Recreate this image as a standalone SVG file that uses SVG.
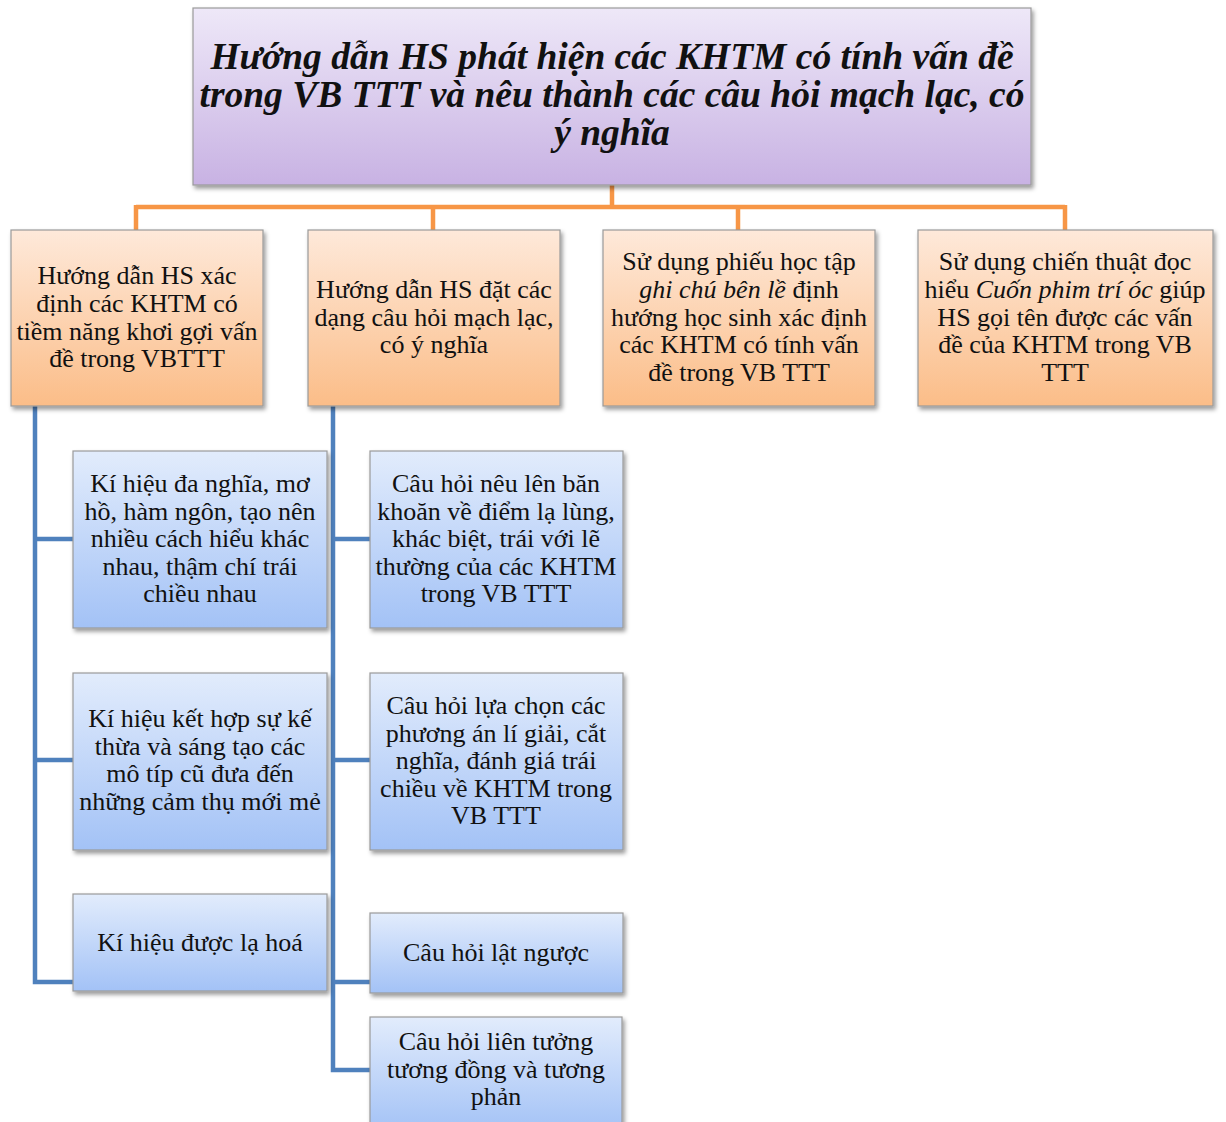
<svg xmlns="http://www.w3.org/2000/svg" width="1226" height="1122" viewBox="0 0 1226 1122">
<defs>
<linearGradient id="gP" x1="0" y1="0" x2="0" y2="1"><stop offset="0" stop-color="#eee8f8"/><stop offset="1" stop-color="#c8b2e3"/></linearGradient>
<linearGradient id="gO" x1="0" y1="0" x2="0" y2="1"><stop offset="0" stop-color="#fee9da"/><stop offset="1" stop-color="#fbbd88"/></linearGradient>
<linearGradient id="gB" x1="0" y1="0" x2="0" y2="1"><stop offset="0" stop-color="#e2ecfc"/><stop offset="1" stop-color="#a3c2f6"/></linearGradient>
<filter id="sh" x="-5%" y="-5%" width="112%" height="115%"><feDropShadow dx="2" dy="3" stdDeviation="2" flood-color="#000" flood-opacity="0.4"/></filter>
</defs>
<style>
.box{stroke:#9a9a9a;stroke-width:1.2;filter:url(#sh)}
.t{font-family:"Liberation Serif","Times New Roman",serif;font-size:26px;fill:#111;text-anchor:middle}
.title{font-family:"Liberation Serif","Times New Roman",serif;font-size:37.5px;font-weight:bold;font-style:italic;fill:#111;text-anchor:middle}
.oc{fill:none;stroke:#f79646;stroke-width:4.5}
.bc{fill:none;stroke:#4f81bd;stroke-width:4.5}
</style>
<g id="connectors">
<path class="oc" d="M612 185V207M136 207H1065M136 205V230M433 205V230M738 205V230M1065 205V230"/>
<path class="bc" d="M35 406V982H73M35 539H73M35 760H73"/>
<path class="bc" d="M333 406V1070H370M333 539H370M333 760H370M333 982H370"/>
</g>
<g id="n0"><rect class="box" x="193" y="8" width="838" height="177" fill="url(#gP)"/>
<text class="title"><tspan x="612" y="69">Hướng dẫn HS phát hiện các KHTM có tính vấn đề</tspan><tspan x="612" y="107">trong VB TTT và nêu thành các câu hỏi mạch lạc, có</tspan><tspan x="612" y="145">ý nghĩa</tspan></text></g>
<g id="n1"><rect class="box" x="11" y="230" width="252" height="176" fill="url(#gO)"/>
<text class="t"><tspan x="137" y="284">Hướng dẫn HS xác</tspan><tspan x="137" y="312">định các KHTM có</tspan><tspan x="137" y="340">tiềm năng khơi gợi vấn</tspan><tspan x="137" y="367">đề trong VBTTT</tspan></text></g>
<g id="n2"><rect class="box" x="308" y="230" width="252" height="176" fill="url(#gO)"/>
<text class="t"><tspan x="434" y="298">Hướng dẫn HS đặt các</tspan><tspan x="434" y="326">dạng câu hỏi mạch lạc,</tspan><tspan x="434" y="353">có ý nghĩa</tspan></text></g>
<g id="n3"><rect class="box" x="603" y="230" width="272" height="176" fill="url(#gO)"/>
<text class="t"><tspan x="739" y="270">Sử dụng phiếu học tập</tspan><tspan x="739" y="298"><tspan font-style="italic">ghi chú bên lề</tspan> định</tspan><tspan x="739" y="326">hướng học sinh xác định</tspan><tspan x="739" y="353">các KHTM có tính vấn</tspan><tspan x="739" y="381">đề trong VB TTT</tspan></text></g>
<g id="n4"><rect class="box" x="918" y="230" width="295" height="176" fill="url(#gO)"/>
<text class="t"><tspan x="1065" y="270">Sử dụng chiến thuật đọc</tspan><tspan x="1065" y="298">hiểu <tspan font-style="italic">Cuốn phim trí óc</tspan> giúp</tspan><tspan x="1065" y="326">HS gọi tên được các vấn</tspan><tspan x="1065" y="353">đề của KHTM trong VB</tspan><tspan x="1065" y="381">TTT</tspan></text></g>
<g id="n5"><rect class="box" x="73" y="451" width="254" height="177" fill="url(#gB)"/>
<text class="t"><tspan x="200" y="492">Kí hiệu đa nghĩa, mơ</tspan><tspan x="200" y="520">hồ, hàm ngôn, tạo nên</tspan><tspan x="200" y="547">nhiều cách hiểu khác</tspan><tspan x="200" y="575">nhau, thậm chí trái</tspan><tspan x="200" y="602">chiều nhau</tspan></text></g>
<g id="n6"><rect class="box" x="73" y="673" width="254" height="177" fill="url(#gB)"/>
<text class="t"><tspan x="200" y="727">Kí hiệu kết hợp sự kế</tspan><tspan x="200" y="755">thừa và sáng tạo các</tspan><tspan x="200" y="782">mô típ cũ đưa đến</tspan><tspan x="200" y="810">những cảm thụ mới mẻ</tspan></text></g>
<g id="n7"><rect class="box" x="73" y="894" width="254" height="97" fill="url(#gB)"/>
<text class="t"><tspan x="200" y="951">Kí hiệu được lạ hoá</tspan></text></g>
<g id="n8"><rect class="box" x="370" y="451" width="253" height="177" fill="url(#gB)"/>
<text class="t"><tspan x="496" y="492">Câu hỏi nêu lên băn</tspan><tspan x="496" y="520">khoăn về điểm lạ lùng,</tspan><tspan x="496" y="547">khác biệt, trái với lẽ</tspan><tspan x="496" y="575">thường của các KHTM</tspan><tspan x="496" y="602">trong VB TTT</tspan></text></g>
<g id="n9"><rect class="box" x="370" y="673" width="253" height="177" fill="url(#gB)"/>
<text class="t"><tspan x="496" y="714">Câu hỏi lựa chọn các</tspan><tspan x="496" y="742">phương án lí giải, cắt</tspan><tspan x="496" y="769">nghĩa, đánh giá trái</tspan><tspan x="496" y="797">chiều về KHTM trong</tspan><tspan x="496" y="824">VB TTT</tspan></text></g>
<g id="n10"><rect class="box" x="370" y="913" width="253" height="80" fill="url(#gB)"/>
<text class="t"><tspan x="496" y="961">Câu hỏi lật ngược</tspan></text></g>
<g id="n11"><rect class="box" x="370" y="1017" width="252" height="115" fill="url(#gB)"/>
<text class="t"><tspan x="496" y="1050">Câu hỏi liên tưởng</tspan><tspan x="496" y="1078">tương đồng và tương</tspan><tspan x="496" y="1105">phản</tspan></text></g>
</svg>
